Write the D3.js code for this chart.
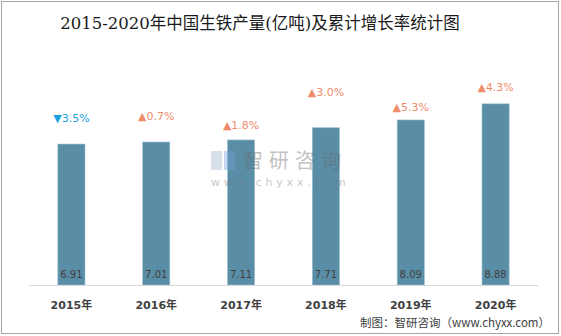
<!DOCTYPE html>
<html><head><meta charset="utf-8">
<script src="https://cdn.jsdelivr.net/npm/d3@7"></script>
<style>body{margin:0;background:#fff}svg{display:block}</style>
</head><body>
<script>
const categories = ["2015年","2016年","2017年","2018年","2019年","2020年"];
const production = [6.91, 7.01, 7.11, 7.71, 8.09, 8.88];
const growth = [-3.5, 0.7, 1.8, 3.0, 5.3, 4.3];
const growthLabels = ["3.5%","0.7%","1.8%","3.0%","5.3%","4.3%"];
// hidden marker series that carries the growth labels (same axis)
const markerLevel = [8.19, 8.28, 7.84, 9.46, 8.73, 9.71];

const W = 561, H = 336;
const svg = d3.select("body").append("svg").attr("width", W).attr("height", H);
svg.append("rect").attr("x",1.5).attr("y",1.5).attr("width",W-4).attr("height",H-4)
  .attr("fill","#fff").attr("stroke","#a6a6a6");

svg.append("text").attr("x", 260).attr("y", 29).attr("text-anchor","middle")
  .attr("font-family","'DejaVu Serif','Noto Sans CJK SC',serif").attr("font-size",16.5)
  .attr("fill","#1a1a1a").text("2015-2020年中国生铁产量(亿吨)及累计增长率统计图");

const x = d3.scaleBand().domain(categories).range([29, 538]).paddingInner(0.68).paddingOuter(0.34);
const y = d3.scaleLinear().domain([0, 10]).range([285, 81]);

svg.append("g").selectAll("rect").data(production).join("rect")
  .attr("x",(d,i)=>x(categories[i])).attr("width",x.bandwidth())
  .attr("y",d=>y(d)).attr("height",d=>y(0)-y(d))
  .attr("fill","#5a8ea6").attr("stroke","#9cc0d0").attr("stroke-width",0.6);

// watermark (on top of bars)
const wm = svg.append("g").attr("opacity",0.4);
wm.append("rect").attr("x",211).attr("y",151).attr("width",11).attr("height",19).attr("fill","#9fb3cc");
wm.append("rect").attr("x",224).attr("y",151).attr("width",11).attr("height",19).attr("fill","#6fa0d6");
wm.append("text").attr("x",243).attr("y",168).attr("font-family","'Noto Sans CJK SC'").attr("font-size",20)
  .attr("fill","#666").attr("letter-spacing",6).text("智研咨询");
wm.append("text").attr("x",211).attr("y",186).attr("font-family","'DejaVu Sans'").attr("font-size",11)
  .attr("fill","#777").attr("letter-spacing",3.8).text("www.chyxx.com");

svg.append("line").attr("x1",29).attr("x2",538).attr("y1",y(0)+0.5).attr("y2",y(0)+0.5).attr("stroke","#d9d9d9");

svg.append("g").selectAll("text").data(production).join("text")
  .attr("x",(d,i)=>x(categories[i])+x.bandwidth()/2).attr("y",y(0)-7)
  .attr("text-anchor","middle").attr("font-family","'DejaVu Sans'").attr("font-size",10)
  .attr("fill","#404040").text(d=>d.toFixed(2));

svg.append("g").selectAll("text").data(categories).join("text")
  .attr("x",d=>x(d)+x.bandwidth()/2).attr("y",309)
  .attr("text-anchor","middle").attr("font-family","'DejaVu Sans','Noto Sans CJK SC'").attr("font-size",11)
  .attr("font-weight","bold").attr("fill","#404040").text(d=>d);

svg.append("g").selectAll("text").data(growth).join("text")
  .attr("x",(d,i)=>x(categories[i])+x.bandwidth()/2).attr("y",(d,i)=>y(markerLevel[i])+4)
  .attr("text-anchor","middle").attr("font-family","'DejaVu Sans','Noto Sans CJK SC'").attr("font-size",11)
  .attr("fill",d=>d<0?"#1aa3dc":"#f08c6c")
  .text((d,i)=>(d<0?"▼":"▲")+growthLabels[i]);

svg.append("text").attr("x",550).attr("y",327).attr("text-anchor","end")
  .attr("font-family","'Noto Sans CJK SC'").attr("font-size",11.5).attr("fill","#404040")
  .text("制图：智研咨询（www.chyxx.com）");
</script>
</body></html>
